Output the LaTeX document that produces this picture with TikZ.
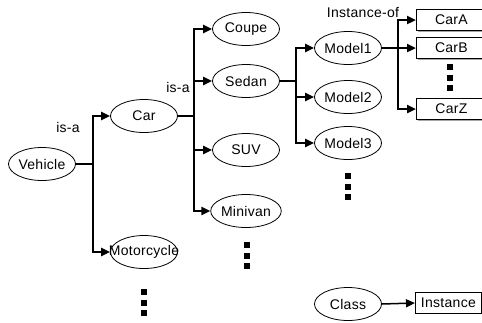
\documentclass[tikz,border=0pt]{standalone}
\usepackage{fontspec}
\setmainfont{Liberation Sans}[LetterSpace=2]
\usetikzlibrary{arrows.meta,shapes.geometric,shadows}
\begin{document}
\begin{tikzpicture}[x=1pt,y=-1pt,
  txt/.style={font=\fontsize{14}{16}\selectfont},
  cls/.style={txt,draw,ellipse,minimum width=67pt,minimum height=33pt,inner sep=0pt,line width=0.8pt},
  inst/.style={txt,draw,rectangle,fill=white,minimum width=70pt,minimum height=21pt,inner sep=0pt,anchor=west,line width=0.8pt},
  shad/.style={drop shadow={shadow xshift=1.2pt,shadow yshift=-1.2pt,fill=gray!70,opacity=1}},
  conn/.style={line width=2.4pt},
  arr/.style={conn,-{Triangle[length=9pt,width=8pt]}},
  thinarr/.style={line width=1.5pt,-{Triangle[length=9pt,width=8pt]}},
  lbl/.style={txt},
  dotsq/.style={fill=black,minimum size=6pt,inner sep=0pt}
]
\useasboundingbox (0,0) rectangle (482,322);
% class nodes
\node[cls] (veh) at (42,164) {Vehicle};
\node[cls] (car) at (144,116) {Car};
\node[cls] (moto) at (144,252) {\makebox[0pt]{Motorcycle}};
\node[cls] (coupe) at (246,29) {Coupe};
\node[cls] (sedan) at (246,81) {Sedan};
\node[cls] (suv) at (246,150) {SUV};
\node[cls] (mini) at (246,211) {Minivan};
\node[cls] (m1) at (348,48) {Model1};
\node[cls] (m2) at (348,97) {Model2};
\node[cls] (m3) at (348,143) {Model3};
\node[cls] (class) at (348,304) {Class};
% instances
\node[inst,shad] (cara) at (416,20) {CarA};
\node[inst,shad] (carb) at (416,48) {CarB};
\node[inst,shad] (carz) at (416,109) {CarZ};
\node[inst,minimum width=66pt] (instance) at (415,303) {Instance};
% labels
\node[lbl] (isa1) at (68,127) {is-a};
\node[lbl] (isa2) at (178,87) {is-a};
\node[lbl] (instof) at (363,12) {Instance-of};
% junctions
\coordinate (j1) at (93,164);
\coordinate (j2) at (194,116);
\coordinate (j3) at (296,81);
\coordinate (j4) at (398,48);
% connectors
\draw[conn] (veh.east) -- (j1);
\draw[arr] (j1) |- (car.west);
\draw[arr] (j1) |- (moto.west);
\draw[conn] (car.east) -- (j2);
\draw[arr] (j2) |- (coupe.west);
\draw[arr] (j2) |- (sedan.west);
\draw[arr] (j2) |- (suv.west);
\draw[arr] (j2) |- (mini.west);
\draw[conn] (sedan.east) -- (j3);
\draw[arr] (j3) |- (m1.west);
\draw[arr] (j3) |- (m2.west);
\draw[arr] (j3) |- (m3.west);
\draw[conn] (m1.east) -- (j4);
\draw[arr] (j4) |- (cara.west);
\draw[arr] (j4) |- (carb.west);
\draw[arr] (j4) |- (carz.west);
\draw[thinarr] (class.east) -- (instance.west);
% dots
\foreach \i/\x/\y in {a/144/292,b/144/302.5,c/144/313,
                      d/247/245,e/247/255.5,f/247/266,
                      g/348/176,h/348/186.5,k/348/197,
                      l/450/67,m/450/77.5,n/450/88}
  \node[dotsq] (dot\i) at (\x,\y) {};
\end{tikzpicture}
\end{document}
